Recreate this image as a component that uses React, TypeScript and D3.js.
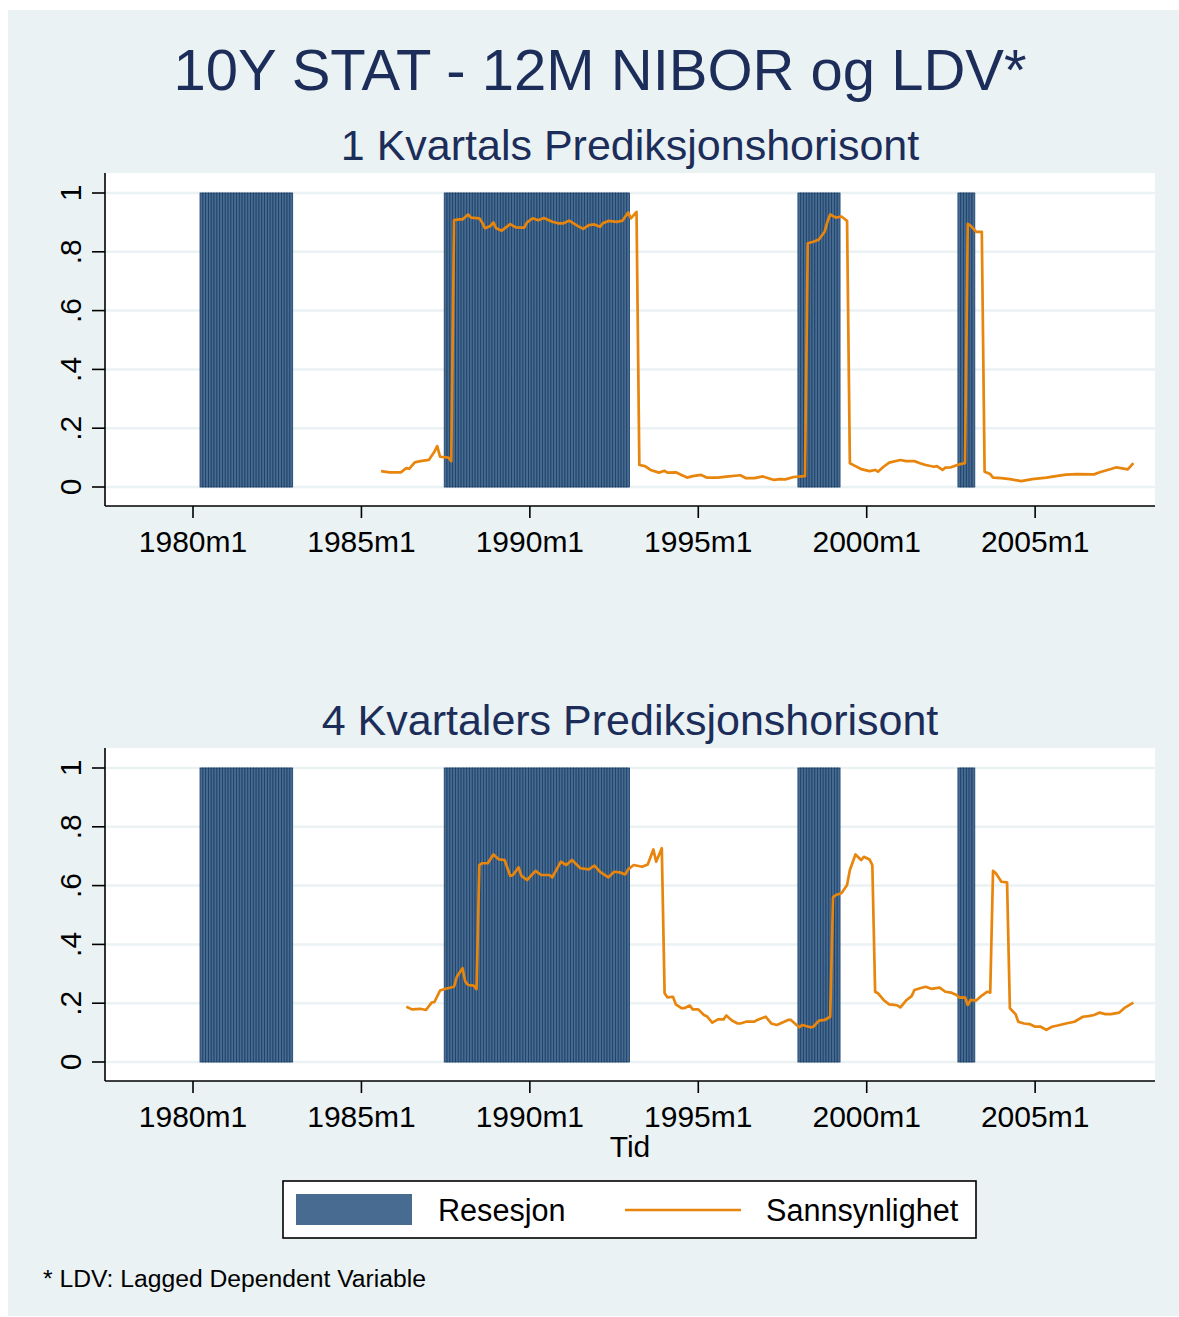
import React from "react";
import * as d3 from "d3";

// Month index counted from 1980m1 (= 0)
const xTicks = [0, 60, 120, 180, 240, 300];
const xTickLabels = ["1980m1", "1985m1", "1990m1", "1995m1", "2000m1", "2005m1"];
const yTicks = [0, 0.2, 0.4, 0.6, 0.8, 1];
const yTickLabels = ["0", ".2", ".4", ".6", ".8", "1"];

// Recession periods: [first month, last month] (month index since 1980m1)
const recessionPeriods: [number, number][] = [
  [3, 35],
  [90, 155],
  [216, 230],
  [273, 278],
];

// Probability, 1 quarter horizon: [month index, value]
const prob1Q: [number, number][] = [
  [67, .054], [70, .05], [74, .05], [76, .064], [77, .062], [79, .084], [81, .088], [84, .092],
  [86, .12], [87, .139], [88, .103], [91, .10], [92, .088], [93, .908], [95, .91], [96, .91],
  [98, .927], [99, .916], [102, .914], [103, .90], [104, .88], [106, .888], [107, .90], [108, .88],
  [110, .872], [113, .894], [115, .883], [118, .882], [119, .90], [121, .914], [123, .907], [125, .915],
  [128, .902], [130, .897], [132, .897], [134, .906], [137, .888], [139, .878], [141, .891], [143, .893],
  [145, .885], [146, .897], [148, .905], [151, .902], [153, .906], [155, .934], [156, .914], [158, .936],
  [159, .075], [161, .071], [163, .058], [166, .049], [168, .055], [169, .049], [172, .05], [174, .041],
  [176, .032], [178, .037], [181, .041], [183, .032], [187, .032], [190, .035], [195, .04], [197, .03],
  [200, .03], [203, .036], [207, .024], [209, .027], [211, .026], [214, .034], [218, .037], [219, .829],
  [221, .834], [223, .842], [225, .868], [226, .902], [227, .927], [229, .916], [231, .92], [233, .905],
  [234, .081], [236, .071], [238, .061], [241, .054], [243, .058], [244, .052], [246, .069], [248, .083],
  [252, .092], [254, .088], [257, .088], [259, .081], [261, .075], [264, .069], [265, .071], [267, .058],
  [268, .066], [270, .067], [273, .077], [275, .081], [276, .895], [277, .889], [279, .868], [281, .868],
  [282, .052], [284, .044], [285, .032], [288, .03], [291, .027], [295, .02], [299, .027], [304, .032],
  [308, .038], [311, .042], [315, .044], [321, .043], [323, .05], [327, .061], [329, .067], [333, .06],
  [335, .081],
];

// Probability, 4 quarters horizon: [month index, value]
const prob4Q: [number, number][] = [
  [76, .188], [78, .179], [81, .181], [83, .177], [85, .202], [86, .204], [88, .243], [90, .249],
  [93, .256], [94, .29], [96, .319], [97, .273], [98, .262], [100, .26], [101, .248], [102, .67],
  [103, .676], [105, .676], [107, .706], [109, .689], [111, .687], [113, .633], [114, .636], [116, .662],
  [117, .633], [119, .619], [122, .65], [124, .636], [127, .636], [128, .628], [131, .681], [133, .67],
  [135, .687], [138, .659], [141, .655], [143, .668], [145, .647], [148, .628], [150, .647], [152, .645],
  [154, .638], [155, .655], [157, .67], [160, .664], [162, .672], [164, .723], [165, .681], [167, .727],
  [168, .234], [169, .22], [171, .222], [172, .196], [174, .183], [175, .183], [177, .192], [178, .179],
  [180, .179], [182, .16], [183, .156], [185, .134], [187, .145], [189, .145], [190, .158], [192, .141],
  [194, .131], [195, .131], [197, .137], [200, .137], [201, .143], [204, .154], [206, .131], [208, .126],
  [212, .143], [213, .143], [215, .126], [216, .118], [217, .126], [220, .118], [221, .12], [223, .141],
  [225, .143], [227, .154], [228, .56], [229, .568], [231, .574], [233, .602], [234, .653], [236, .706],
  [238, .687], [239, .698], [241, .689], [242, .67], [243, .239], [244, .234], [246, .211], [248, .196],
  [250, .194], [251, .192], [252, .186], [254, .209], [256, .224], [257, .245], [259, .251], [261, .256],
  [263, .249], [266, .253], [268, .239], [270, .236], [272, .228], [273, .219], [275, .22], [276, .194],
  [277, .211], [279, .209], [281, .226], [283, .239], [284, .236], [285, .65], [286, .642], [288, .613],
  [290, .611], [291, .183], [293, .163], [294, .137], [296, .131], [298, .129], [300, .12], [302, .12],
  [304, .109], [306, .12], [308, .124], [311, .131], [314, .137], [317, .154], [319, .156], [321, .16],
  [323, .168], [325, .163], [327, .163], [330, .168], [332, .185], [335, .202],
];

const mainTitle = "10Y STAT - 12M NIBOR og LDV*";
const panelTitles = ["1 Kvartals Prediksjonshorisont", "4 Kvartalers Prediksjonshorisont"];
const xAxisTitle = "Tid";
const legendLabels = ["Resesjon", "Sannsynlighet"];
const footnote = "* LDV: Lagged Dependent Variable";

const W = 1179;
const H = 1317;
const FONT = "'Liberation Sans', Arial, Helvetica, sans-serif";
const NAVY = "#1C2D5A";
const BG = "#EAF2F3";
const BAR_FILL = "#476B91";
const BAR_STROKE = "#1D4068";
const LINE = "#E8850C";

const plotLeft = 105;
const plotRight = 1155;
const x = d3.scaleLinear().domain([-31.35, 342.7]).range([plotLeft, plotRight]);

const recessionMonths: number[] = recessionPeriods.flatMap(([a, b]) => d3.range(a, b + 1));

function Panel({ top, title, data }: { top: number; title: string; data: [number, number][] }) {
  const plotTop = top;
  const plotBottom = top + 333;
  const y = d3.scaleLinear().domain([0, 1]).range([plotTop + 314, plotTop + 20]);
  const line = d3
    .line<[number, number]>()
    .x((d) => x(d[0]))
    .y((d) => y(d[1]));
  const bw = x(1) - x(0);
  return (
    <g>
      <text x={630} y={plotTop - 13} fontSize={43} fill={NAVY} textAnchor="middle" fontFamily={FONT}>
        {title}
      </text>
      <rect x={plotLeft} y={plotTop} width={plotRight - plotLeft} height={plotBottom - plotTop} fill="#fff" />
      {yTicks.map((t) => (
        <line key={t} x1={plotLeft} x2={plotRight} y1={y(t)} y2={y(t)} stroke={BG} strokeWidth={2.5} />
      ))}
      {recessionMonths.map((m) => (
        <rect
          key={m}
          x={x(m) - bw / 2}
          y={y(1)}
          width={bw}
          height={y(0) - y(1)}
          fill={BAR_FILL}
          stroke={BAR_STROKE}
          strokeWidth={0.85}
        />
      ))}
      <path d={line(data) || ""} fill="none" stroke={LINE} strokeWidth={2.7} strokeLinejoin="round" />
      {/* axes */}
      <line x1={plotLeft} x2={plotLeft} y1={plotTop} y2={plotBottom} stroke="#000" strokeWidth={1.6} />
      <line x1={plotLeft} x2={plotRight} y1={plotBottom} y2={plotBottom} stroke="#000" strokeWidth={1.6} />
      {yTicks.map((t, i) => (
        <g key={t}>
          <line x1={plotLeft - 13} x2={plotLeft} y1={y(t)} y2={y(t)} stroke="#000" strokeWidth={1.6} />
          <text
            transform={`translate(81,${y(t)}) rotate(-90)`}
            fontSize={30}
            textAnchor="middle"
            fontFamily={FONT}
            fill="#000"
          >
            {yTickLabels[i]}
          </text>
        </g>
      ))}
      {xTicks.map((t, i) => (
        <g key={t}>
          <line x1={x(t)} x2={x(t)} y1={plotBottom} y2={plotBottom + 12} stroke="#000" strokeWidth={1.6} />
          <text x={x(t)} y={plotBottom + 46} fontSize={30} textAnchor="middle" fontFamily={FONT} fill="#000">
            {xTickLabels[i]}
          </text>
        </g>
      ))}
    </g>
  );
}

export default function App() {
  return (
    <svg
      width={W}
      height={H}
      style={{ position: "absolute", left: 0, top: 0, display: "block" }}
      xmlns="http://www.w3.org/2000/svg"
    >
      <rect x={0} y={0} width={W} height={H} fill="#fff" />
      <rect x={8} y={10} width={W - 8} height={H - 11} fill={BG} />
      <text x={600} y={90} fontSize={58} fill={NAVY} textAnchor="middle" fontFamily={FONT}>
        {mainTitle}
      </text>
      <Panel top={173} title={panelTitles[0]} data={prob1Q} />
      <Panel top={748} title={panelTitles[1]} data={prob4Q} />
      <text x={630} y={1157} fontSize={30} textAnchor="middle" fontFamily={FONT} fill="#000">
        {xAxisTitle}
      </text>
      {/* legend */}
      <rect x={283} y={1181} width={693} height={57} fill="#fff" stroke="#000" strokeWidth={1.6} />
      <rect x={296} y={1194} width={116} height={31} fill={BAR_FILL} />
      <text x={438} y={1221} fontSize={30.6} fontFamily={FONT} fill="#000">
        {legendLabels[0]}
      </text>
      <line x1={625} x2={741} y1={1210} y2={1210} stroke={LINE} strokeWidth={2.6} />
      <text x={766} y={1221} fontSize={30.6} fontFamily={FONT} fill="#000">
        {legendLabels[1]}
      </text>
      <text x={43} y={1287} fontSize={24.7} fontFamily={FONT} fill="#000">
        {footnote}
      </text>
    </svg>
  );
}
